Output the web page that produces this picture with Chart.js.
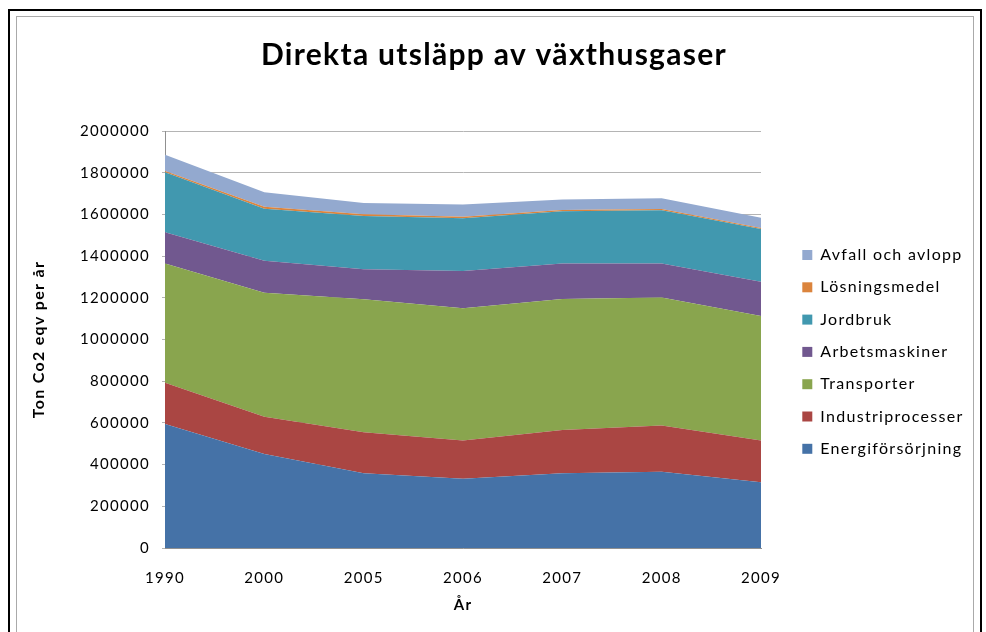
<!DOCTYPE html>
<html>
<head>
<meta charset="utf-8">
<script src="https://cdn.jsdelivr.net/npm/chart.js@4.4.1/dist/chart.umd.min.js"></script>
<style>
    body { margin: 0; background: #fff; }
    #outerFrame { position: absolute; left: 8px; top: 9px; width: 970px; height: 700px; border: 2px solid #000; }
    #innerFrame { position: absolute; left: 16px; top: 16px; width: 956px; height: 700px; border: 1px solid #aaa; }
    #chart { position: absolute; left: 0; top: 0; }
</style>
</head>
<body>
<div id="outerFrame"></div>
<div id="innerFrame"></div>
<canvas id="chart" width="986" height="632"></canvas>
<script>
// years on the x axis
const years = ['1990', '2000', '2005', '2006', '2007', '2008', '2009'];

// ton CO2 eqv per year (stacked from the bottom)
const energi = [595000, 451000, 358000, 332000, 358000, 366000, 315000];
const industri = [198000, 179000, 197000, 183000, 208000, 221000, 200000];
const transport = [572000, 594000, 638000, 635000, 628000, 615000, 598000];
const arbetsmaskiner = [149000, 154000, 144000, 179000, 171000, 163000, 164000];
const jordbruk = [288000, 249000, 255000, 252000, 250000, 255000, 253000];
const losningsmedel = [6000, 10000, 9000, 8000, 6000, 6000, 5000];
const avfall = [78000, 69000, 54000, 59000, 51000, 51000, 49000];

Chart.defaults.font.family = 'Lato';
Chart.defaults.color = '#000';

function area(label, data, color, fill) {
    return {
        label: label,
        data: data,
        backgroundColor: color,
        borderColor: color,
        borderWidth: 0,
        pointRadius: 0,
        tension: 0,
        fill: fill
    };
}

// Excel draws its text a bit spread out.
// measureText ignores the spacing here, so the legend gets some extra room
const spacing = {
    id: 'spacing',
    beforeLayout(chart) {
        chart.ctx.letterSpacing = '1.3px';
        const legend = chart.legend;
        if (legend && !legend.widened) {
            const fit = legend.fit;
            legend.fit = function () {
                fit.call(this);
                this.width += 24;
            };
            legend.widened = true;
        }
    }
};

new Chart(document.getElementById('chart'), {
    type: 'line',
    data: {
        labels: years,
        datasets: [
            area('Energiförsörjning', energi, '#4572A7', 'origin'),
            area('Industriprocesser', industri, '#AA4643', '-1'),
            area('Transporter', transport, '#89A54E', '-1'),
            area('Arbetsmaskiner', arbetsmaskiner, '#71588F', '-1'),
            area('Jordbruk', jordbruk, '#4198AF', '-1'),
            area('Lösningsmedel', losningsmedel, '#DB843D', '-1'),
            area('Avfall och avlopp', avfall, '#93A9CF', '-1')
        ]
    },
    options: {
        responsive: false,
        animation: false,
        layout: {
            padding: { left: 20, right: 18, top: 37, bottom: 0 }
        },
        plugins: {
            title: {
                display: true,
                text: 'Direkta utsläpp av växthusgaser',
                font: { size: 30, weight: 'bold' },
                padding: { top: 0, bottom: 58 }
            },
            legend: {
                position: 'right',
                fullSize: false,
                reverse: true,
                title: { display: true, text: ' ', padding: 4, font: { size: 14 } },
                labels: {
                    boxWidth: 10,
                    boxHeight: 10,
                    padding: 16.3,
                    font: { size: 16 }
                }
            },
            tooltip: { enabled: false }
        },
        scales: {
            x: {
                offset: false,
                grid: { display: false },
                border: { display: true, color: '#909090' },
                ticks: { padding: 13, font: { size: 15 } },
                title: {
                    display: true,
                    text: 'År',
                    font: { size: 15, weight: 'bold' },
                    padding: { top: 0, bottom: 18 }
                },
                afterFit: function (scale) { scale.height = 84; }
            },
            y: {
                stacked: true,
                min: 0,
                max: 2000000,
                grid: { color: '#b4b4b4', tickLength: 3 },
                border: { display: true, color: '#909090' },
                ticks: {
                    stepSize: 200000,
                    padding: 12,
                    font: { size: 15 },
                    callback: function (value) { return String(value); }
                },
                title: {
                    display: true,
                    text: 'Ton Co2 eqv per år',
                    font: { size: 16, weight: 'bold' },
                    padding: { top: 9, bottom: 0 }
                },
                afterFit: function (scale) { scale.width = 145; }
            },
            // empty gap between the plot and the legend
            gap: {
                position: 'right',
                display: true,
                grid: { display: false },
                border: { display: false },
                ticks: { display: false },
                afterFit: function (scale) { scale.width = 25; }
            }
        }
    },
    plugins: [spacing]
});
</script>
</body>
</html>
